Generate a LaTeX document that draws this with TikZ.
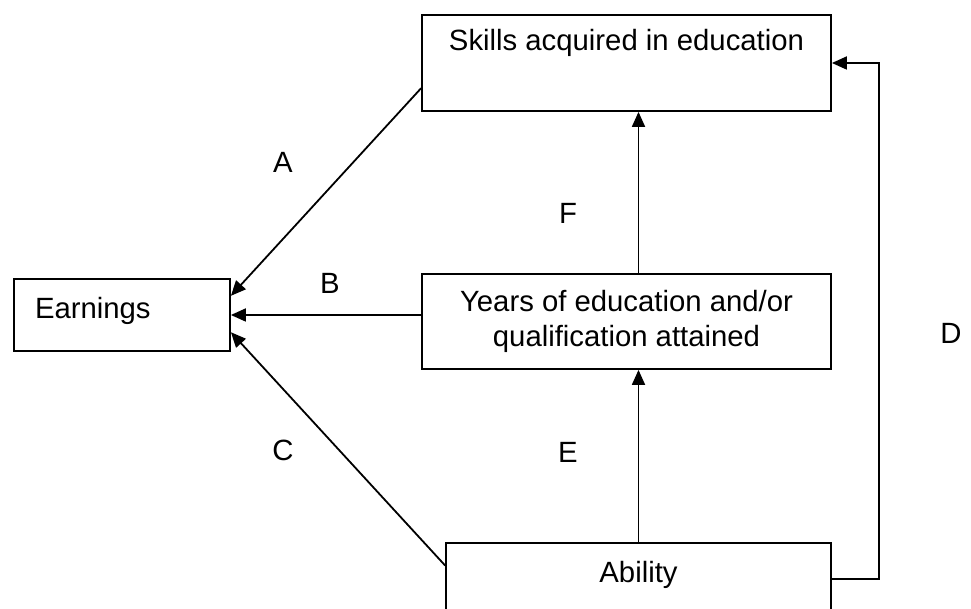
\documentclass[tikz,border=0pt]{standalone}
\usepackage{fontspec}
\setmainfont{Liberation Sans}
\usetikzlibrary{shapes}
\usetikzlibrary{arrows.meta}

\begin{document}
\begin{tikzpicture}[x=0.5pt,y=-0.5pt]
				\tikzstyle{every node}=[font=\fontsize{14.65}{17.5}\selectfont]
				\tikzstyle{box}=[rectangle,draw,line width=0.9pt,align=center,inner sep=0pt]
				\tikzstyle{link}=[line width=0.9pt,-{Triangle[length=7.5pt,width=6.5pt]}]
				\useasboundingbox (0,0) rectangle (971,609);
				\clip (0,0) rectangle (971,609);
				% boxes
				\node[box,minimum width=204.5pt,minimum height=48pt] (skills) at (626.5,63) {Skills acquired in education\\ \strut};
				\node[box,minimum width=204.5pt,minimum height=47.5pt] (years) at (626.5,321.5) {Years of education and/or\\qualification attained};
				\node[box,minimum width=192.5pt,minimum height=36pt,text depth=7pt] (ability) at (638.5,579) {Ability};
				\node[box,minimum width=108pt,minimum height=36pt,text width=87pt,align=left,text depth=7pt] (earn) at (122,315) {Earnings};
				% path labels
				\node (labA) at (283,162) {A};
				\node (labB) at (330,283) {B};
				\node (labC) at (283,450) {C};
				\node (labD) at (951,333) {D};
				\node (labE) at (568,452) {E};
				\node (labF) at (568,213) {F};
				% arrows
				\draw[link] (skills.187) -- (earn.10);
				\draw[link] (earn.east -| years.west) -- (earn.east);
				\draw[link] (ability.176) -- (earn.-9);
				\draw[link] (ability.north) -- (ability.north |- years.south);
				\draw[link] (ability.north |- years.north) -- (ability.north |- skills.south);
				\draw[link] (ability.east) -- ++(47,0) |- (skills.east);
\end{tikzpicture}
\end{document}
